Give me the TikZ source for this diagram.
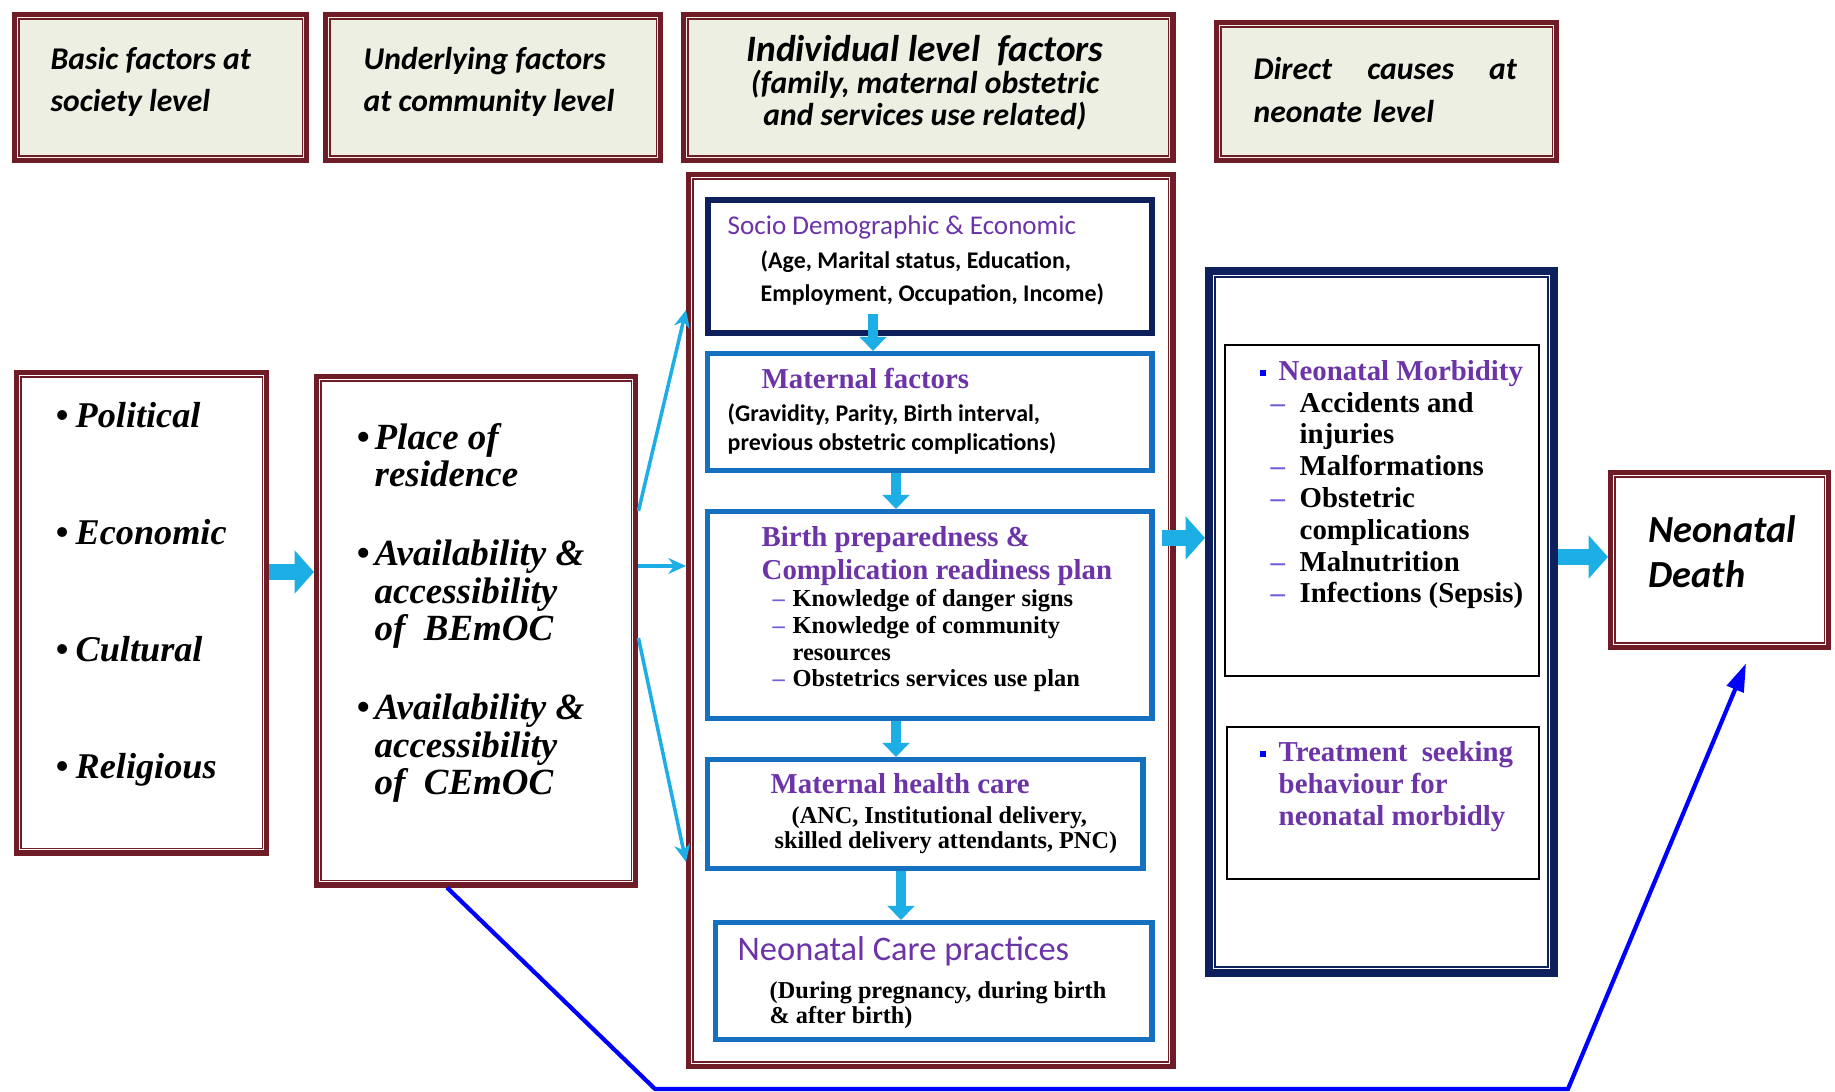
\documentclass[tikz,border=0pt]{standalone}
\usepackage{fontspec}
\setmainfont{Liberation Serif}
\newfontfamily\calfont{Carlito}
\usepackage{xcolor}
\usetikzlibrary{arrows.meta,calc}
\definecolor{framered}{RGB}{110,28,38}
\definecolor{headfill}{RGB}{237,239,226}
\definecolor{navyblue}{RGB}{14,32,92}
\definecolor{boxblue}{RGB}{22,112,192}
\definecolor{arrowcyan}{RGB}{28,174,228}
\definecolor{headpurple}{RGB}{108,52,168}
\definecolor{dashpurple}{RGB}{120,90,220}
\definecolor{linkblue}{RGB}{0,0,255}
\newcommand{\itembul}[1][0.2cm]{\makebox[#1][l]{\textbullet}}
\newcommand{\sqbullet}{\makebox[0.19cm][l]{\textcolor{blue}{\rule[0.3ex]{0.5ex}{0.5ex}}}}
\newcommand{\dashitem}[2][0.29cm]{\makebox[#1][l]{\textcolor{dashpurple}{--}}#2}

\begin{document}
\begin{tikzpicture}[x=0.01cm,y=-0.01cm,
  box/.style={anchor=north west,inner sep=0pt},
  redbox/.style={box,draw=framered,line width=1.5pt,fill=white},
  bluebox/.style={box,draw=boxblue,line width=1.5pt,fill=white},
  thinbox/.style={box,draw=black,line width=0.6pt},
  txt/.style={anchor=base west,inner sep=0pt,align=left},
  fatarrow/.style={draw=arrowcyan,line width=4.6pt,-{Triangle[width=12pt,length=5.5pt]}},
  downarrow/.style={draw=arrowcyan,line width=2.8pt,-{Triangle[width=7.5pt,length=4pt]}},
  thinarrow/.style={draw=arrowcyan,line width=1pt,-{Stealth[width=4.5pt,length=5pt]}},
  headfont/.style={font=\calfont\bfseries\itshape\fontsize{9}{12}\selectfont},
  titlefont/.style={font=\bfseries\fontsize{8.2}{9.4}\selectfont,text=headpurple},
  smallfont/.style={font=\bfseries\fontsize{6.9}{7.3}\selectfont},
]
\useasboundingbox (0,0) rectangle (1835,1092);

% level headings
\node[redbox,fill=headfill,minimum width=2.92cm,minimum height=1.46cm] (basic) at (12,12) {};
\node[redbox,fill=headfill,minimum width=3.35cm,minimum height=1.46cm] (underlying) at (323,12) {};
\node[redbox,fill=headfill,minimum width=4.89cm,minimum height=1.46cm] (individual) at (681,12) {};
\node[redbox,fill=headfill,minimum width=3.40cm,minimum height=1.38cm] (direct) at (1214,20) {};

% factor boxes
\node[redbox,minimum width=2.50cm,minimum height=4.80cm] (society) at (14,370) {};
\node[redbox,minimum width=3.19cm,minimum height=5.08cm] (community) at (314,374) {};
\node[redbox,minimum width=4.84cm,minimum height=8.91cm] (ilevel) at (686,172) {};
\node[redbox,minimum width=2.18cm,minimum height=1.75cm] (death) at (1608,470) {};
\foreach \n in {basic,underlying,individual,direct,society,community,ilevel,death}
  \draw[framered,line width=0.5pt] ([shift={(7,7)}]\n.north west) rectangle ([shift={(-7,-7)}]\n.south east);

% individual level
\node[box,draw=navyblue,line width=1.7pt,fill=white,minimum width=4.44cm,minimum height=1.33cm] (socio) at (705,197) {};
\node[bluebox,minimum width=4.44cm,minimum height=1.17cm] (matf) at (705,351) {};
\node[bluebox,minimum width=4.44cm,minimum height=2.07cm] (birth) at (705,509) {};
\node[bluebox,minimum width=4.35cm,minimum height=1.09cm] (mhc) at (705,757) {};
\node[bluebox,minimum width=4.36cm,minimum height=1.17cm] (ncp) at (713,920) {};

% neonate level
\node[box,draw=navyblue,line width=2.2pt,fill=white,minimum width=3.45cm,minimum height=7.02cm] (outcome) at (1205,267) {};
\draw[navyblue,line width=0.6pt] ([shift={(10,10)}]outcome.north west) rectangle ([shift={(-10,-10)}]outcome.south east);
\node[thinbox,minimum width=3.14cm,minimum height=3.31cm] (morb) at (1224,344) {};
\node[thinbox,minimum width=3.12cm,minimum height=1.52cm] (treat) at (1226,726) {};

% texts (multi-line nodes sit on their last baseline)
\node[txt,headfont] (basict) at (50,112) {Basic factors at\\society level};
\node[txt,headfont] (underlyingt) at (363,112) {Underlying factors\\at community level};
\node[anchor=base,inner sep=0pt,align=center,font=\calfont\bfseries\itshape\fontsize{9}{9.1}\selectfont] (individualt) at (925,126)
  {{\fontsize{10.6}{10.6}\selectfont Individual level\ \ factors}\\(family, maternal obstetric\\and services use related)};
\node[txt,headfont,text width=2.63cm] (directt) at (1253,80) {Direct\hfill causes\hfill at\\neonate level};

\node[txt,font=\bfseries\itshape\fontsize{10.3}{33.3}\selectfont] (societyt) at (55,779)
  {\itembul Political\\\itembul Economic\\\itembul Cultural\\\itembul Religious};
\node[txt,font=\bfseries\itshape\fontsize{10.5}{10.7}\selectfont] (communityt) at (356,795)
  {\itembul[0.18cm]Place of\\\hspace*{0.18cm}residence\\[11.7pt]
   \itembul[0.18cm]Availability \&\\\hspace*{0.18cm}accessibility\\\hspace*{0.18cm}of\ \ BEmOC\\[11.7pt]
   \itembul[0.18cm]Availability \&\\\hspace*{0.18cm}accessibility\\\hspace*{0.18cm}of\ \ CEmOC};

\node[txt,font=\calfont\fontsize{7.7}{9.4}\selectfont,text=headpurple] (sociot) at (727,235) {Socio Demographic \& Economic};
\node[txt,font=\calfont\bfseries\fontsize{6.8}{9.4}\selectfont] (socios) at (760,302) {(Age, Marital status, Education,\\Employment, Occupation, Income)};
\node[txt,titlefont] (matft) at (761,389) {Maternal factors};
\node[txt,font=\calfont\bfseries\fontsize{6.8}{8.5}\selectfont] (matfs) at (727,451) {(Gravidity, Parity, Birth interval,\\previous obstetric complications)};
\node[txt,titlefont] (birtht) at (761,580) {Birth preparedness \&\\Complication readiness plan};
\node[txt,font=\bfseries\fontsize{6.95}{7.6}\selectfont] (births) at (772,687)
  {\dashitem[0.2cm]{Knowledge of danger signs}\\\dashitem[0.2cm]{Knowledge of community}\\\hspace*{0.2cm}resources\\\dashitem[0.2cm]{Obstetrics services use plan}};
\node[txt,titlefont] (mhct) at (770,794) {Maternal health care};
\node[txt,smallfont] (mhcs) at (774,849) {\hspace*{0.17cm}(ANC, Institutional delivery,\\skilled delivery attendants, PNC)};
\node[txt,font=\calfont\fontsize{9.8}{9.8}\selectfont,text=headpurple] (ncpt) at (737,961) {Neonatal Care practices};
\node[txt,smallfont] (ncps) at (769,1024) {(During pregnancy, during birth\\\& after birth)};

\node[txt,font=\bfseries\fontsize{8.2}{9.05}\selectfont] (morbt) at (1259,603)
  {\sqbullet\textcolor{headpurple}{Neonatal Morbidity}\\
   \hspace*{0.11cm}\dashitem{Accidents and}\\\hspace*{0.40cm}injuries\\
   \hspace*{0.11cm}\dashitem{Malformations}\\
   \hspace*{0.11cm}\dashitem{Obstetric}\\\hspace*{0.40cm}complications\\
   \hspace*{0.11cm}\dashitem{Malnutrition}\\
   \hspace*{0.11cm}\dashitem{Infections (Sepsis)}};
\node[txt,font=\bfseries\fontsize{8.2}{9.2}\selectfont,text=headpurple] (treatt) at (1259,826)
  {\sqbullet Treatment\ \ seeking\\\hspace*{0.19cm}behaviour for\\\hspace*{0.19cm}neonatal morbidly};
\node[txt,font=\calfont\bfseries\itshape\fontsize{10.9}{13}\selectfont] (deatht) at (1648,588) {Neonatal\\Death};

% connectors
\draw[fatarrow] (society.east |- 0,572) -- (community.west |- 0,572);
\draw[thinarrow] (community.east |- 0,511) -- (ilevel.west |- 0,310);
\draw[thinarrow] (community.east |- 0,566) -- (ilevel.west |- 0,566);
\draw[thinarrow] (community.east |- 0,638) -- (ilevel.west |- 0,862);
\draw[downarrow] ($(socio.south -| 873,0)+(0,-22)$) -- (matf.north -| 873,0);
\draw[downarrow] (matf.south -| 896,0) -- (birth.north -| 896,0);
\draw[downarrow] (birth.south -| 896,0) -- (mhc.north -| 896,0);
\draw[downarrow] (mhc.south -| 901,0) -- (ncp.north -| 901,0);
\draw[fatarrow] ($(ilevel.east |- 0,538)+(-14,0)$) -- (outcome.west |- 0,538);
\draw[fatarrow] (outcome.east |- 0,557) -- (death.west |- 0,557);

\coordinate (lowleft) at (655,1089);
\coordinate (lowright) at (1568,1089);
\draw[linkblue,line width=1.2pt,-{Triangle[width=5pt,length=8pt]}]
  (community.south -| 447,0) -- (lowleft) -- (lowright) -- ($(death.south -| 1746,0)+(0,13)$);
\end{tikzpicture}
\end{document}
